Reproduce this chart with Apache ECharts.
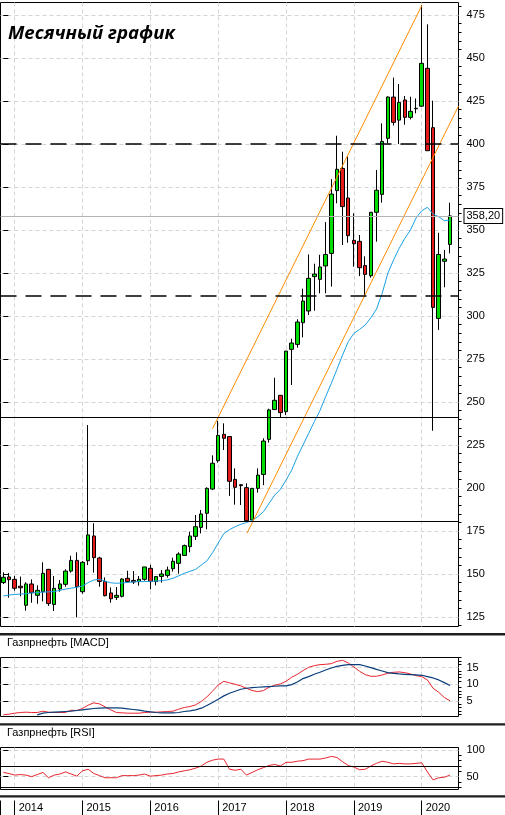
<!DOCTYPE html>
<html><head><meta charset="utf-8">
<script src="https://cdn.jsdelivr.net/npm/echarts@6/dist/echarts.min.js"></script>
<style>html,body{margin:0;padding:0;background:#fff}#c{width:505px;height:815px}</style>
</head><body><div id="c"></div>
<script>
// ---- categories (monthly, Nov 2013 .. Jun 2020, plus one empty slot) ----
const startYear = 2013, startMonth = 11, nSlots = 81;
const months = [];
for (let k = 0; k < nSlots; k++) {
  const m = startMonth - 1 + k;
  months.push((startYear + Math.floor(m / 12)) + '-' + String(m % 12 + 1).padStart(2, '0'));
}
const yearIdx = months.map((m, i) => m.endsWith('-01') ? i : -1).filter(i => i >= 0);

// ---- OHLC ----
const opens  = [145.0,148.3,146.9,142.9,131.8,144.2,137.6,139.7,152.7,132.3,141.3,144.0,151.7,157.9,139.7,157.7,172.1,159.3,145.7,139.0,136.4,137.0,147.5,146.3,145.6,146.9,153.3,145.6,148.6,149.2,153.1,156.2,160.8,165.9,171.9,177.1,185.3,199.4,215.9,231.2,229.9,205.0,201.9,200.2,181.4,199.8,207.9,228.3,245.6,253.9,244.4,280.6,283.5,296.1,302.9,322.9,321.3,329.1,336.4,372.9,385.8,368.6,344.0,343.4,329.3,323.4,360.3,370.7,403.3,427.3,413.9,425.6,415.5,420.5,422.0,444.0,409.5,298.6,331.8,341.6];
const closes = [148.1,146.7,141.7,142.0,144.2,139.1,140.5,150.4,132.8,141.7,144.2,151.7,157.9,142.6,156.8,172.7,159.5,145.7,137.4,135.6,137.6,147.1,145.6,145.4,146.9,154.1,145.6,148.5,150.0,152.3,157.4,161.6,166.5,172.1,177.5,184.9,199.8,214.4,230.6,228.9,203.9,200.4,201.4,181.0,199.8,207.5,227.3,245.4,251.0,243.8,279.6,284.3,296.5,308.7,321.9,324.4,328.5,335.8,370.9,385.3,363.6,346.7,342.0,328.1,324.2,360.3,373.1,401.5,427.3,412.6,424.2,415.5,419.0,420.8,446.9,396.1,305.0,335.8,333.1,358.2];
const lows   = [144.2,136.2,140.3,137.0,128.7,133.3,132.7,134.1,131.4,128.5,139.7,142.6,150.8,124.8,138.5,155.2,150.8,142.6,137.0,133.3,134.9,136.4,145.0,144.2,143.2,146.1,141.1,143.4,145.0,147.9,151.4,150.2,160.7,162.6,169.8,173.6,176.0,198.8,214.7,222.1,195.4,190.3,190.1,181.0,180.4,197.3,201.7,226.4,245.5,241.1,242.4,259.9,281.6,287.6,300.6,303.1,313.2,313.2,317.1,365.5,341.3,342.6,328.7,323.2,312.2,322.3,343.2,365.9,400.4,410.7,400.0,411.2,414.3,417.8,421.7,396.0,233.3,291.9,316.7,336.4];
const highs  = [151.0,150.6,149.0,148.5,145.2,146.9,143.4,156.8,153.0,148.8,146.5,152.7,160.6,162.6,157.5,236.6,179.5,160.0,148.0,142.2,142.4,147.5,151.9,151.7,148.8,154.1,155.4,148.8,152.3,154.3,159.5,162.6,167.1,174.6,184.3,187.2,200.4,219.0,239.1,237.6,229.9,211.4,202.3,202.7,200.0,211.4,228.9,246.1,264.1,254.0,279.6,286.8,298.1,315.9,335.8,330.4,335.6,354.6,379.6,404.8,395.5,392.6,359.7,347.1,334.7,360.5,384.9,412.0,427.7,438.6,434.9,427.9,427.5,426.5,480.8,469.6,425.2,348.4,338.4,365.9];

// ---- moving average (blue) ----
const maLine = [137.2,137.8,138.1,138.3,138.5,139.0,139.2,139.5,139.6,139.8,140.5,141.2,141.8,142.3,143.0,145.0,146.5,146.9,145.8,144.9,144.6,144.8,145.1,145.4,145.6,145.6,145.7,145.9,146.1,146.6,147.5,148.9,150.4,151.6,152.7,155.2,157.6,162.4,168.0,173.5,175.8,177.5,178.9,179.9,181.2,183.3,186.2,191.1,195.9,199.2,204.6,210.4,218.2,225.0,231.8,238.6,245.0,253.1,260.8,269.0,277.3,285.1,289.9,292.2,294.8,299.0,304.0,313.2,324.8,332.5,339.3,345.1,350.0,357.0,361.2,363.2,359.3,357.7,355.4,355.8];

// ---- channel lines [month index, price] ----
const channelUpper = [[37, 234.5], [74.05, 480.8]];
const channelLower = [[43.1, 173.7], [80.5, 422.1]];

// ---- horizontal levels ----
const dashedLevels = [400, 312];
const solidLevels = [241.2, 180.9];
const lastPrice = 358.2;

// ---- MACD ----
const macdLine = [0.8,1.0,1.3,1.5,1.6,1.5,1.5,1.9,1.6,1.5,1.5,1.5,2.2,2.1,2.7,3.7,4.4,4.1,3.2,2.3,1.5,1.4,1.3,1.3,1.3,1.5,1.6,1.6,1.7,1.8,1.9,2.5,3.0,3.3,3.8,4.8,6.2,7.9,9.8,10.9,10.4,10.0,9.5,8.8,8.1,7.8,8.1,9.1,9.7,10.1,10.9,12.1,13.0,14.1,15.1,15.6,15.9,16.0,16.2,16.9,17.2,16.4,15.2,13.9,12.9,12.4,12.4,12.8,13.3,13.6,13.7,13.5,13.1,12.6,12.3,11.3,8.8,7.6,6.0,5.0];
const signalLine = [null,null,null,null,null,null,0.8,1.3,1.5,1.6,1.7,1.8,1.9,2.1,2.3,2.5,2.7,2.8,2.9,2.9,2.9,2.8,2.6,2.4,2.2,1.9,1.7,1.5,1.4,1.4,1.4,1.5,1.8,2.0,2.3,2.8,3.6,4.5,5.5,6.5,7.3,7.9,8.5,8.8,9.0,9.1,9.2,9.3,9.4,9.5,9.5,9.9,10.7,11.7,12.3,13.0,13.6,14.3,14.9,15.4,15.7,15.9,15.9,15.9,15.5,15.0,14.5,14.0,13.5,13.3,13.1,13.0,12.9,12.8,12.7,12.3,11.9,11.3,10.5,9.6];

// ---- RSI ----
const rsiLine = [58,56,53,54,53,50,54,58,48,53,55,59,55,51,61,64,56,52,48,48,48,52,52,52,53,55,51,52,53,55,56,59,61,63,66,70,77,81,83,83,64,62,64,53,58,63,67,71,73,70,77,77,79,80,83,83,83,85,88,86,78,71,68,63,64,70,75,79,77,74,75,74,74,75,76,59,44,48,49,53];
const rsiLevels = [70, 30];

// ---- tick labels ----
const priceTicks = [125,150,175,200,225,250,275,300,325,350,375,400,425,450,475];
const macdTicks = [5,10,15];
const rsiTicks = [50,100];

const priceMinor = [], macdMinor = [], rsiMinor = [30,40,60,70,80,90];
for (let v = 120; v <= 480; v += 5) if (v % 25) priceMinor.push(v);
for (let v = 1; v <= 18; v++) if (v % 5) macdMinor.push(v);

const candles = opens.map((o, i) => [o, closes[i], lows[i], highs[i]]);

const FONT = 'Liberation Sans, Arial, sans-serif';
const axisFont = {fontFamily: FONT, fontSize: 11, color: '#000'};
const gridLine = {show: true, lineStyle: {color: '#d4d4d4', type: [4, 3], width: 1}};

function overlayX(gi) {
  return {type: 'value', gridIndex: gi, min: -0.5, max: nSlots - 0.5,
    axisLine: {show: false}, axisTick: {show: false, customValues: yearIdx},
    axisLabel: {show: false}, splitLine: gridLine};
}
function catX(gi) { return {type: 'category', gridIndex: gi, data: months, show: false}; }
function majorY(gi, min, max, ticks) {
  return {type: 'value', gridIndex: gi, position: 'right', min: min, max: max,
    axisLine: {show: false},
    axisTick: {show: true, customValues: ticks, length: 5, lineStyle: {color: '#000'}},
    axisLabel: Object.assign({customValues: ticks, margin: 8}, axisFont),
    splitLine: gridLine};
}
function minorY(gi, min, max, ticks) {
  return {type: 'value', gridIndex: gi, position: 'right', min: min, max: max,
    axisLine: {show: false},
    axisTick: {show: true, customValues: ticks, length: 3, lineStyle: {color: '#000'}},
    axisLabel: {show: false}, splitLine: {show: false}};
}

const chart = echarts.init(document.getElementById('c'), null, {renderer: 'canvas'});
chart.setOption({
  animation: false,
  backgroundColor: '#fff',
  title: [
    {text: 'Месячный график', left: 8, top: 24, padding: 0,
      textStyle: {fontFamily: 'Open Sans', fontStyle: 'italic', fontWeight: 'bold', fontSize: 18.6, color: '#000'}},
    {text: 'Газпрнефть [MACD]', left: 7, top: 637, padding: 0,
      textStyle: {fontFamily: FONT, fontWeight: 'normal', fontSize: 11, color: '#000'}},
    {text: 'Газпрнефть [RSI]', left: 7, top: 727, padding: 0,
      textStyle: {fontFamily: FONT, fontWeight: 'normal', fontSize: 11, color: '#000'}}
  ],
  graphic: [
    {type: 'rect', silent: true, shape: {x: 0, y: 633, width: 505, height: 2.6}, style: {fill: '#1e1e1e'}},
    {type: 'rect', silent: true, shape: {x: 0, y: 723.2, width: 505, height: 2.4}, style: {fill: '#1e1e1e'}},
    {type: 'rect', silent: true, shape: {x: 0, y: 795.2, width: 505, height: 2.4}, style: {fill: '#1e1e1e'}}
  ],
  grid: [
    {left: 0.5, top: 2.5, width: 458, height: 624, show: true, borderColor: '#000', borderWidth: 1},
    {left: 0.5, top: 657.5, width: 458, height: 59, show: true, borderColor: '#000', borderWidth: 1},
    {left: 0.5, top: 747.5, width: 458, height: 42, show: true, borderColor: '#000', borderWidth: 1},
    {left: 0.5, top: 800.5, width: 458, height: 15, show: false}
  ],
  xAxis: [
    catX(0), overlayX(0),
    catX(1), overlayX(1),
    catX(2), overlayX(2),
    {type: 'value', gridIndex: 3, position: 'top', min: -0.5, max: nSlots - 0.5,
      axisLine: {show: true, lineStyle: {color: '#000', width: 1}},
      axisTick: {show: false, customValues: [-0.5].concat(yearIdx)},
      axisLabel: Object.assign({customValues: yearIdx, inside: true, align: 'left', margin: 2,
        padding: [0, 0, 0, 4], formatter: v => months[Math.round(v)].slice(0, 4)}, axisFont),
      splitLine: {show: true, lineStyle: {color: '#000', width: 1, type: 'solid'}}}
  ],
  yAxis: [
    majorY(0, 119.48, 482.27, priceTicks), minorY(0, 119.48, 482.27, priceMinor),
    majorY(1, 0.3, 18.05, macdTicks), minorY(1, 0.3, 18.05, macdMinor),
    majorY(2, 26, 104.7, rsiTicks), minorY(2, 26, 104.7, rsiMinor),
    {type: 'value', gridIndex: 3, show: false}
  ],
  series: [
    {type: 'candlestick', xAxisIndex: 0, yAxisIndex: 0, data: candles, barWidth: 4, clip: false,
      itemStyle: {color: '#00dd00', color0: '#e31b1b', borderColor: '#000', borderColor0: '#000', borderWidth: 1},
      markLine: {silent: true, symbol: ['none', 'none'], label: {show: false},
        data: [
          ...dashedLevels.map(v => ({yAxis: v, lineStyle: {color: '#000', type: [16, 9], width: 1.5}})),
          ...solidLevels.map(v => ({yAxis: v, lineStyle: {color: '#000', type: 'solid', width: 1}})),
          {yAxis: lastPrice, lineStyle: {color: '#b4b4b4', type: 'solid', width: 1},
            label: {show: true, position: 'end', distance: 6,
              formatter: lastPrice.toFixed(2).replace('.', ','),
              backgroundColor: '#fff', borderColor: '#000', borderWidth: 1, padding: [2, 2, 1, 2],
              color: '#000', fontSize: 11, fontFamily: FONT}}
        ]}},
    {type: 'line', xAxisIndex: 0, yAxisIndex: 0, data: maLine, showSymbol: false, silent: true,
      lineStyle: {color: '#1ba1e2', width: 1}},
    {type: 'line', xAxisIndex: 1, yAxisIndex: 0, data: channelUpper, showSymbol: false, silent: true, clip: false,
      lineStyle: {color: '#ff8c00', width: 1}},
    {type: 'line', xAxisIndex: 1, yAxisIndex: 0, data: channelLower, showSymbol: false, silent: true, clip: false,
      lineStyle: {color: '#ff8c00', width: 1}},
    {type: 'line', xAxisIndex: 2, yAxisIndex: 2, data: macdLine, showSymbol: false, silent: true,
      lineStyle: {color: '#e8262e', width: 1}},
    {type: 'line', xAxisIndex: 2, yAxisIndex: 2, data: signalLine, showSymbol: false, silent: true,
      lineStyle: {color: '#0a3d7a', width: 1.2}},
    {type: 'line', xAxisIndex: 4, yAxisIndex: 4, data: rsiLine, showSymbol: false, silent: true,
      lineStyle: {color: '#e8262e', width: 1},
      markLine: {silent: true, symbol: ['none', 'none'], label: {show: false},
        data: rsiLevels.map(v => ({yAxis: v, lineStyle: {color: '#000', type: 'solid', width: 1}}))}}
  ]
});
</script></body></html>
